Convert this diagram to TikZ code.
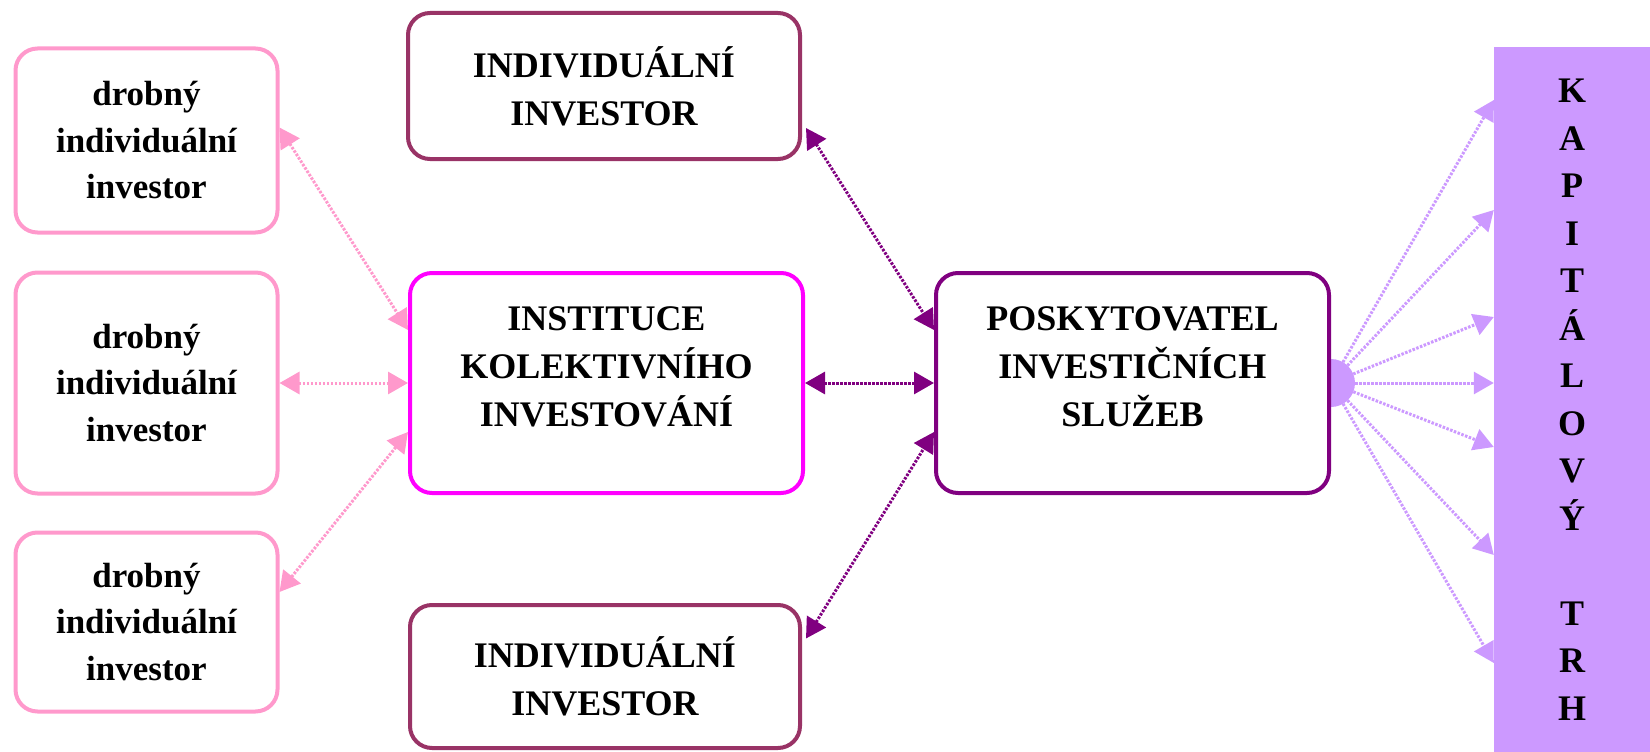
\documentclass[tikz,border=0pt]{standalone}
\usepackage{fontspec}
\setmainfont{Liberation Serif}
\usetikzlibrary{arrows.meta,backgrounds}
\definecolor{pinkb}{HTML}{FF99CC}
\definecolor{plumb}{HTML}{993366}
\definecolor{magb}{HTML}{FF00FF}
\definecolor{purpb}{HTML}{800080}
\definecolor{lavb}{HTML}{CC99FF}
\begin{document}
\begin{tikzpicture}[x=1pt,y=-1pt,
  box/.style={draw, line width=4pt, rounded corners=22pt, fill=white, align=center,
    inner sep=0pt, font=\bfseries\fontsize{36}{48}\selectfont},
  smallbox/.style={box, draw=pinkb, minimum width=262pt, font=\bfseries\fontsize{35}{46.5}\selectfont},
  lbl/.style={align=center, inner sep=0pt, font=\bfseries\fontsize{36}{48}\selectfont},
  dotline/.style={line width=3pt, dash pattern=on 2.5pt off 1.5pt},
  pconn/.style={dotline, draw=pinkb, {Triangle[length=20pt,width=22pt]}-{Triangle[length=20pt,width=22pt]}},
  uconn/.style={dotline, draw=purpb, {Triangle[length=20pt,width=22pt]}-{Triangle[length=20pt,width=22pt]}},
  lconn/.style={dotline, draw=lavb, -{Triangle[length=20pt,width=22pt]}},
]
\useasboundingbox (0,0) rectangle (1650,752);

% left small boxes
\node (b1) [smallbox, minimum height=184pt] at (146.5,140.5) {drobný\\individuální\\investor};
\node (b2) [smallbox, minimum height=221pt] at (146.5,383) {drobný\\individuální\\investor};
\node (b3) [smallbox, minimum height=179pt] at (146.5,622) {drobný\\individuální\\investor};

% individual investors
\node (ind1) [box, draw=plumb, minimum width=392pt, minimum height=146pt] at (604,86) {INDIVIDUÁLNÍ\\INVESTOR};
\node (ind2) [box, draw=plumb, minimum width=390pt, minimum height=143pt] at (605,676.5) {INDIVIDUÁLNÍ\\INVESTOR};

% central boxes
\node (inst) [box, draw=magb, minimum width=393pt, minimum height=220pt,
  label={[lbl, yshift=16pt]center:{INSTITUCE\\KOLEKTIVNÍHO\\INVESTOVÁNÍ}}] at (606.5,383) {};
\node (pos) [box, draw=purpb, minimum width=393pt, minimum height=220pt,
  label={[lbl, yshift=16pt]center:{POSKYTOVATEL\\INVESTIČNÍCH\\SLUŽEB}}] at (1132.5,383) {};

% capital market
\node (kt) [fill=lavb, minimum width=156pt, minimum height=705pt, inner sep=0pt, align=center,
  font=\bfseries\fontsize{36}{47.5}\selectfont] at (1572,399.5)
  {K\\A\\P\\I\\T\\Á\\L\\O\\V\\Ý\\[47.5pt]T\\R\\H};

% pink connectors
\draw[pconn] ([yshift=13pt]b1.east) -- ([yshift=53pt]inst.west);
\draw[pconn] (b2.east) -- (inst.west);
\draw[pconn] ([yshift=30pt]b3.east) -- ([yshift=-49pt]inst.west);

% purple connectors
\draw[uconn] ([xshift=4pt,yshift=-42pt]ind1.east) -- ([yshift=53pt]pos.west);
\draw[uconn] (inst.east) -- (pos.west);
\draw[uconn] ([xshift=4pt,yshift=38pt]ind2.east) -- ([yshift=-49pt]pos.west);

% lavender fan
\begin{pgfonlayer}{background}
\foreach \s in {299.5,189.5,82.5,16.5,-47.5,-155.5,-263.5}
  \draw[lconn] (pos.east) -- ([yshift=\s pt]kt.west);
\fill[lavb] (pos.east) circle[radius=24pt];
\end{pgfonlayer}
\end{tikzpicture}
\end{document}
